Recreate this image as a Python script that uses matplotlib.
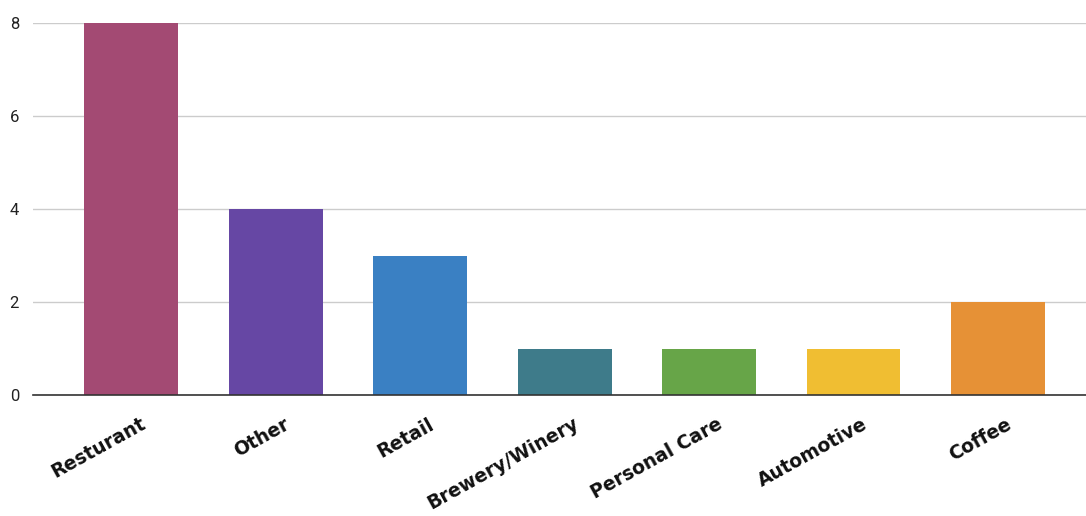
import matplotlib
matplotlib.use("Agg")
import matplotlib.pyplot as plt
import matplotlib.transforms as mtransforms

categories = ["Resturant", "Other", "Retail", "Brewery/Winery", "Personal Care", "Automotive", "Coffee"]
counts = [8, 4, 3, 1, 1, 1, 2]
colors = ["#A34A73", "#6647A4", "#3A80C3", "#3E7B8A", "#67A548", "#F0BE32", "#E69136"]
yticks = [0, 2, 4, 6, 8]

fig = plt.figure(figsize=(10.86, 5.16), dpi=100)
ax = fig.add_axes([33 / 1086, 1 - 395 / 516, 1 - 33 / 1086, (395 - 23) / 516])
x = list(range(len(categories)))
ax.bar(x, counts, width=0.65, color=colors, zorder=3)
ax.set_xlim(-0.68, 6.61)
ax.set_ylim(0, 8)
ax.set_yticks(yticks)
ax.set_yticklabels([str(v) for v in yticks], fontsize=12, color="#222222", family="Roboto")
ax.yaxis.grid(True, color="#cccccc", linewidth=1, zorder=0)
ax.set_axisbelow(True)
for s in ["top", "right", "left"]:
    ax.spines[s].set_visible(False)
ax.spines["bottom"].set_color("#333333")
ax.spines["bottom"].set_linewidth(1.2)
ax.spines["bottom"].set_zorder(4)
ax.tick_params(axis="y", length=0, pad=10)
ax.tick_params(axis="x", length=0, pad=14)
ax.set_xticks(x)
ax.set_xticklabels(categories, rotation=29, ha="right", rotation_mode="anchor",
                   fontsize=13.5, fontweight="bold", color="#111111")
offset = mtransforms.ScaledTranslation(8 / 100, 0, fig.dpi_scale_trans)
for lbl in ax.get_xticklabels():
    lbl.set_transform(lbl.get_transform() + offset)
fig.savefig("out.png", dpi=100, facecolor="white")
